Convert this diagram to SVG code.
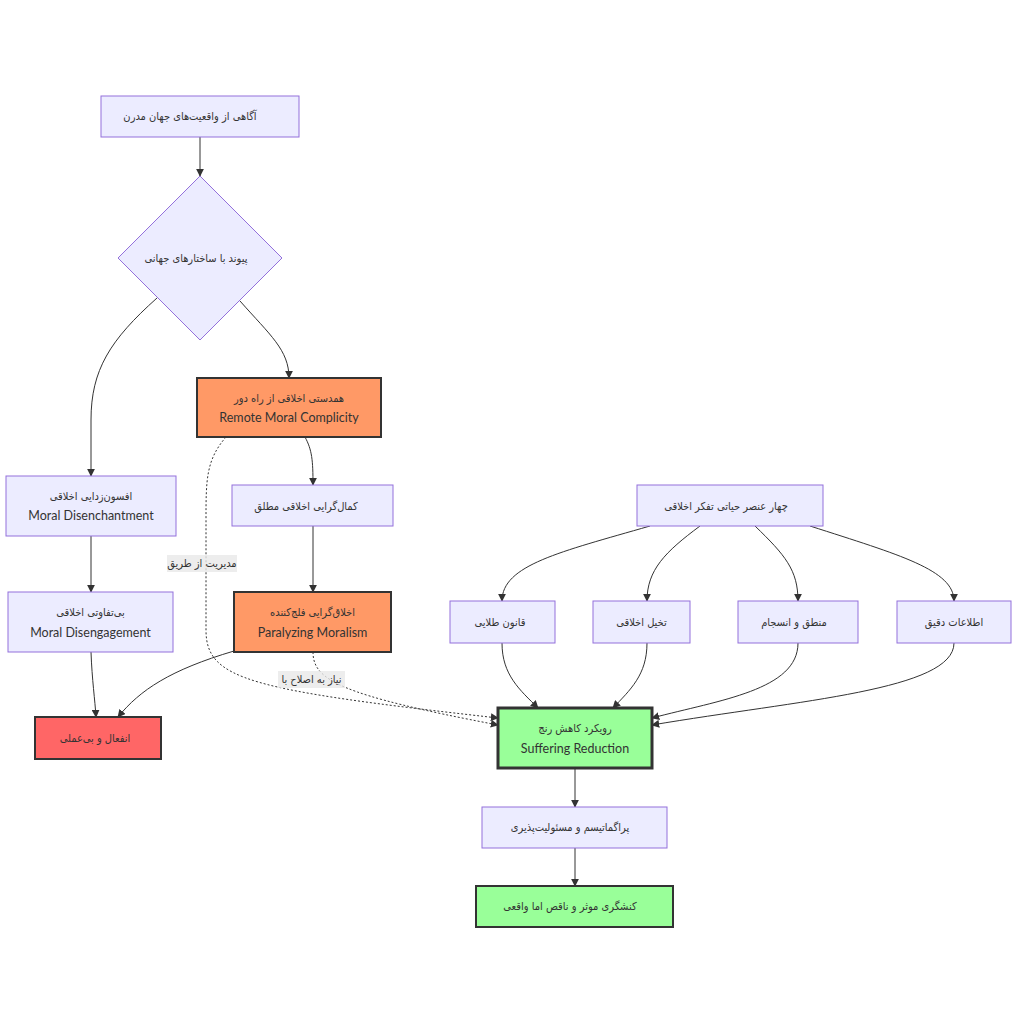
<svg xmlns="http://www.w3.org/2000/svg" width="1016" height="1024" viewBox="0 0 1016 1024">
<defs>
<marker id="arr" viewBox="0 0 10 10" refX="9" refY="5" markerWidth="8" markerHeight="8" markerUnits="userSpaceOnUse" orient="auto">
<path d="M0,0 L10,5 L0,10 z" fill="#333"/>
</marker>
</defs>
<style>
.n{fill:#ECECFF;stroke:#9370DB;stroke-width:1}
.o{fill:#FF9966;stroke:#333;stroke-width:2}
.r{fill:#FF6666;stroke:#333;stroke-width:2}
.g{fill:#99FF99;stroke:#333;stroke-width:2}
.g3{fill:#99FF99;stroke:#333;stroke-width:3}
text{fill:#333;text-anchor:middle;dominant-baseline:central}
.fa{font-family:"DejaVu Sans Condensed","DejaVu Sans",sans-serif;font-size:11px}
.en{font-family:Lato,"Liberation Sans",sans-serif;font-size:12.5px}
.e{fill:none;stroke:#333;stroke-width:1;marker-end:url(#arr)}
.d{fill:none;stroke:#333;stroke-width:1;stroke-dasharray:2 2;marker-end:url(#arr)}
.lb{fill:#e8e8e8;opacity:0.8}
</style>
<rect width="1016" height="1024" fill="#fff"/>
<g id="edges">
<path class="e" d="M200,137 L200,176"/>
<path class="e" d="M157,298 C110,340 91,370 91,420 L91,476"/>
<path class="e" d="M240,301 C270,335 289,350 289,378"/>
<path class="e" d="M305,437 C312,450 313,460 313,485"/>
<path class="d" d="M226,437 C206,460 206,480 206,520 L206,630 C206,680 250,690 498,718"/>
<path class="e" d="M313,526 L313,592"/>
<path class="d" d="M313,652 C313,680 340,695 498,725"/>
<path class="e" d="M91,536 L91,592"/>
<path class="e" d="M91,652 C92,680 95,700 96,717"/>
<path class="e" d="M234,651 C170,670 140,690 118,717"/>
<path class="e" d="M650,526 C560,552 502,565 502,601"/>
<path class="e" d="M700,526 C665,552 647,570 647,601"/>
<path class="e" d="M755,526 C785,555 798,570 798,601"/>
<path class="e" d="M810,526 C900,555 954,570 954,601"/>
<path class="e" d="M502,643 C502,675 520,690 538,708"/>
<path class="e" d="M647,643 C647,675 630,690 613,708"/>
<path class="e" d="M798,643 C798,690 720,700 652,718"/>
<path class="e" d="M954,643 C954,690 800,700 652,725"/>
<path class="e" d="M575,768 L575,807"/>
<path class="e" d="M575,848 L575,886"/>
<rect class="lb" x="167" y="555" width="70" height="17"/>
<text class="fa" x="202" y="563.5">مدیریت از طریق</text>
<rect class="lb" x="278" y="671" width="67" height="17"/>
<text class="fa" x="311.5" y="679.5">نیاز به اصلاح با</text>
</g>
<g id="n1"><rect class="n" x="101" y="96" width="198" height="41"/><text class="fa" x="190" y="116">آگاهی از واقعیت‌های جهان مدرن</text></g>
<g id="n2"><path class="n" d="M200,176 L282,258 L200,340 L118,258 z"/><text class="fa" x="196" y="258">پیوند با ساختارهای جهانی</text></g>
<g id="n3"><rect class="o" x="197" y="378" width="184" height="59"/><text class="fa" x="289" y="398">همدستی اخلاقی از راه دور</text><text class="en" x="289" y="417">Remote Moral Complicity</text></g>
<g id="n4"><rect class="n" x="6" y="476" width="170" height="60"/><text class="fa" x="91" y="496">افسون‌زدایی اخلاقی</text><text class="en" x="91" y="515">Moral Disenchantment</text></g>
<g id="n5"><rect class="n" x="232" y="485" width="161" height="41"/><text class="fa" x="306" y="506">کمال‌گرایی اخلاقی مطلق</text></g>
<g id="n6"><rect class="n" x="8" y="592" width="165" height="60"/><text class="fa" x="90.5" y="612">بی‌تفاوتی اخلاقی</text><text class="en" x="90.5" y="632">Moral Disengagement</text></g>
<g id="n7"><rect class="o" x="234" y="592" width="157" height="60"/><text class="fa" x="312.5" y="612">اخلاق‌گرایی فلج‌کننده</text><text class="en" x="312.5" y="632">Paralyzing Moralism</text></g>
<g id="n8"><rect class="r" x="35" y="717" width="126" height="42"/><text class="fa" x="95" y="738">انفعال و بی‌عملی</text></g>
<g id="n9"><rect class="n" x="637" y="485" width="186" height="41"/><text class="fa" x="726" y="506">چهار عنصر حیاتی تفکر اخلاقی</text></g>
<g id="n10"><rect class="n" x="450" y="601" width="105" height="42"/><text class="fa" x="500" y="622">قانون طلایی</text></g>
<g id="n11"><rect class="n" x="593" y="601" width="97" height="42"/><text class="fa" x="641.5" y="622">تخیل اخلاقی</text></g>
<g id="n12"><rect class="n" x="738" y="601" width="120" height="42"/><text class="fa" x="794" y="622">منطق و انسجام</text></g>
<g id="n13"><rect class="n" x="897" y="601" width="114" height="42"/><text class="fa" x="954" y="622">اطلاعات دقیق</text></g>
<g id="n14"><rect class="g3" x="498" y="708" width="154" height="60"/><text class="fa" x="575" y="728">رویکرد کاهش رنج</text><text class="en" x="575" y="748">Suffering Reduction</text></g>
<g id="n15"><rect class="n" x="482" y="807" width="185" height="41"/><text class="fa" x="570" y="827">پراگماتیسم و مسئولیت‌پذیری</text></g>
<g id="n16"><rect class="g" x="476" y="886" width="197" height="41"/><text class="fa" x="570" y="906">کنشگری موثر و ناقص اما واقعی</text></g>
</svg>
